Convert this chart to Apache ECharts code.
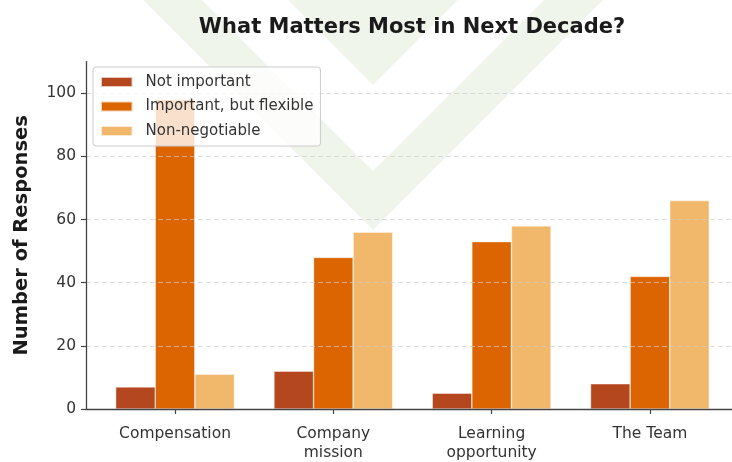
<!DOCTYPE html>
<html>
<head>
<meta charset="utf-8">
<script src="https://cdn.jsdelivr.net/npm/echarts@6/dist/echarts.min.js"></script>
<style>
  html, body { margin: 0; padding: 0; background: #ffffff; }
  #chart { width: 732px; height: 462px; }
</style>
</head>
<body>
<div id="chart"></div>
<script>
// Survey: what matters most in the next decade
const categories = ['Compensation', 'Company\nmission', 'Learning\nopportunity', 'The Team'];
const seriesNames = ['Not important', 'Important, but flexible', 'Non-negotiable'];
const notImportant = [7, 12, 5, 8];
const flexible = [98, 48, 53, 42];
const nonNegotiable = [11, 56, 58, 66];
const yTicks = [0, 20, 40, 60, 80, 100];
const categoryPositions = [0, 1, 2, 3];

const colors = ['#b5471f', '#dc6502', '#f1b86c'];
const FONT = 'DejaVu Sans';

const chart = echarts.init(document.getElementById('chart'), null, { renderer: 'canvas' });

function toPoints(values) {
  return values.map((v, i) => [categoryPositions[i], v]);
}

const seriesValues = [notImportant, flexible, nonNegotiable];

const series = seriesValues.map((values, k) => ({
  name: seriesNames[k],
  type: 'bar',
  data: toPoints(values),
  barWidth: 39.6,
  barGap: '0%',
  itemStyle: { color: colors[k], borderColor: 'rgba(255,255,255,0.7)', borderWidth: 0.6 },
  emphasis: { disabled: true },
  z: 2
}));

const washGreen = '#f0f5ec';

chart.setOption({
  animation: false,
  backgroundColor: '#ffffff',
  textStyle: { fontFamily: FONT },
  graphic: {
    elements: [
      {
        type: 'polygon', z: -10, silent: true,
        shape: { points: [[288, 0], [458, 0], [373, 85]] },
        style: { fill: washGreen }
      },
      {
        type: 'polygon', z: -10, silent: true,
        shape: { points: [[143, 0], [373, 230], [603, 0], [544, 0], [373, 171], [202, 0]] },
        style: { fill: washGreen }
      }
    ]
  },
  title: {
    text: 'What Matters Most in Next Decade?',
    left: 407,
    textAlign: 'center',
    top: 12,
    textStyle: { fontFamily: FONT, fontSize: 21, fontWeight: 'bold', color: '#1a1a1a' }
  },
  legend: {
    data: seriesNames,
    orient: 'vertical',
    left: 93,
    top: 67,
    icon: 'rect',
    itemWidth: 31.5,
    itemHeight: 10,
    itemGap: 6.5,
    padding: [6, 7, 6, 7],
    backgroundColor: 'rgba(255,255,255,0.8)',
    borderColor: '#cccccc',
    borderWidth: 1,
    borderRadius: 3,
    selectedMode: false,
    textStyle: { fontFamily: FONT, fontSize: 15, color: '#333333', lineHeight: 18, padding: [0, 0, 0, 8] }
  },
  grid: { left: 86, top: 61.6, right: 0, height: 349.1, containLabel: false },
  xAxis: {
    type: 'value',
    min: -0.5625,
    max: 3.5185,
    z: 4,
    axisLine: { onZero: false, lineStyle: { color: '#444444', width: 1.3 } },
    axisTick: { customValues: categoryPositions, length: 5, lineStyle: { color: '#444444', width: 1.2 } },
    axisLabel: {
      customValues: categoryPositions,
      formatter: (v) => categories[Math.round(v)],
      fontFamily: FONT, fontSize: 15.5, color: '#333333', lineHeight: 19, margin: 15
    },
    splitLine: { show: false }
  },
  yAxis: {
    type: 'value',
    min: 0,
    max: 110,
    z: 3,
    name: 'Number of Responses',
    nameLocation: 'middle',
    nameGap: 54,
    nameTextStyle: { fontFamily: FONT, fontSize: 19.5, fontWeight: 'bold', color: '#1a1a1a' },
    axisLine: { show: true, onZero: false, lineStyle: { color: '#444444', width: 1.3 } },
    axisTick: { show: true, customValues: yTicks, length: 5, lineStyle: { color: '#444444', width: 1.2 } },
    axisLabel: { customValues: yTicks, fontFamily: FONT, fontSize: 15.5, color: '#333333', margin: 10 },
    splitLine: { show: true, lineStyle: { color: 'rgba(205,205,205,0.7)', width: 1, type: [5, 3] } }
  },
  series: series
});
</script>
</body>
</html>
